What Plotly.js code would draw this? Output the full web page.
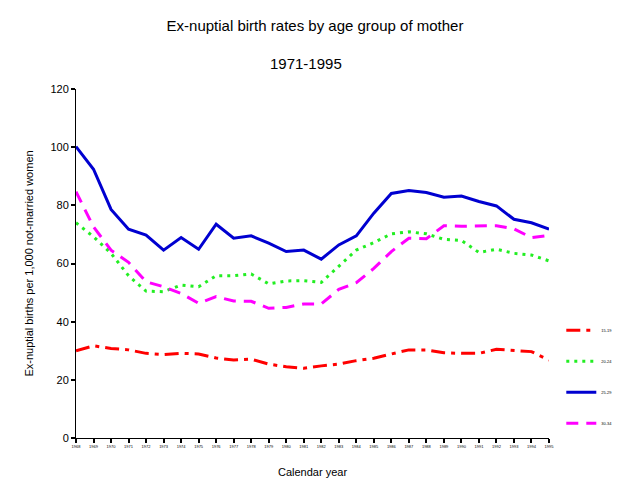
<!DOCTYPE html>
<html><head><meta charset="utf-8">
<script src="https://cdn.plot.ly/plotly-3.0.1.min.js"></script>
<style>html,body{margin:0;padding:0;background:#fff}#chart{width:630px;height:503px}</style>
</head><body><div id="chart"></div>
<script>
const years = [1968,1969,1970,1971,1972,1973,1974,1975,1976,1977,1978,1979,1980,1981,1982,1983,1984,1985,1986,1987,1988,1989,1990,1991,1992,1993,1994,1995];
const seriesNames = ["15-19","20-24","25-29","30-34"];
const age15_19 = [30.0,31.7,30.8,30.3,29.1,28.7,29.1,28.9,27.5,26.8,27.1,25.4,24.5,24.0,24.8,25.4,26.6,27.4,28.9,30.3,30.3,29.3,29.1,29.1,30.5,30.0,29.7,26.8];
const age20_24 = [74.0,69.2,63.5,55.8,50.5,50.3,52.6,52.0,55.8,55.8,56.4,53.0,54.0,54.1,53.5,58.9,64.6,67.2,70.2,70.9,70.2,68.3,67.9,63.8,64.9,63.5,62.9,60.9];
const age25_29 = [100.2,92.4,78.6,71.8,69.8,64.6,68.9,64.9,73.5,68.7,69.5,67.0,64.1,64.6,61.5,66.4,69.5,77.3,84.1,85.1,84.4,82.8,83.2,81.3,79.8,75.2,74.0,71.8];
const age30_34 = [84.7,72.6,64.6,60.4,53.7,52.0,49.7,46.3,48.6,47.1,47.0,44.6,44.9,46.1,46.1,51.1,53.4,58.3,64.1,68.7,68.5,73.0,72.8,72.8,73.0,71.9,68.9,69.7];

const styles = [
  {color:"#FF0000", dash:"14px,6px,4px,6px"},
  {color:"#22EE22", dash:"3px,5px"},
  {color:"#0000D0", dash:"solid"},
  {color:"#FF00FF", dash:"12px,8px"}
];
const all = [age15_19, age20_24, age25_29, age30_34];
const traces = all.map((ys,i)=>({
  type:"scatter", mode:"lines", x:years, y:ys, name:seriesNames[i],
  legendgroup:"g"+i,
  line:{color:styles[i].color, dash:styles[i].dash, width:3}
}));

const layout = {
  width:630, height:503,
  paper_bgcolor:"#fff", plot_bgcolor:"#fff",
  margin:{l:76, r:61, t:89, b:65},
  font:{family:"Arial, Liberation Sans, sans-serif", color:"#000", size:11},
  title:{text:"Ex-nuptial birth rates by age group of mother", font:{size:15}, x:0.5, xref:"container", y:0.949, yref:"container", yanchor:"middle"},
  annotations:[{text:"1971-1995", xref:"paper", yref:"paper", x:0.5, y:1, xanchor:"center", yanchor:"bottom", showarrow:false, font:{size:15}, yshift:15, xshift:-7}],
  xaxis:{
    range:[1968,1995], tickmode:"array", tickvals:years, ticktext:years.map(String),
    tickfont:{size:4}, ticks:"outside", ticklen:4, tickwidth:2, tickcolor:"#000",
    showline:true, linecolor:"#000", linewidth:1, showgrid:false, zeroline:false,
    title:{text:"Calendar year", font:{size:11}, standoff:20}
  },
  yaxis:{
    range:[0,120], tickvals:[0,20,40,60,80,100,120], ticks:"outside", ticklen:4, tickwidth:2, tickcolor:"#000",
    showline:true, linecolor:"#000", linewidth:1, showgrid:false, zeroline:false,
    tickfont:{size:11},
    title:{text:"Ex-nuptial births per 1,000 not-married women", font:{size:11}, standoff:14}
  },
  showlegend:true,
  legend:{x:1.026, xanchor:"left", y:0.35, yanchor:"top", font:{size:4}, traceorder:"grouped", tracegroupgap:12, bgcolor:"rgba(0,0,0,0)", borderwidth:0}
};
Plotly.newPlot("chart", traces, layout, {displayModeBar:false, staticPlot:true});
</script></body></html>
